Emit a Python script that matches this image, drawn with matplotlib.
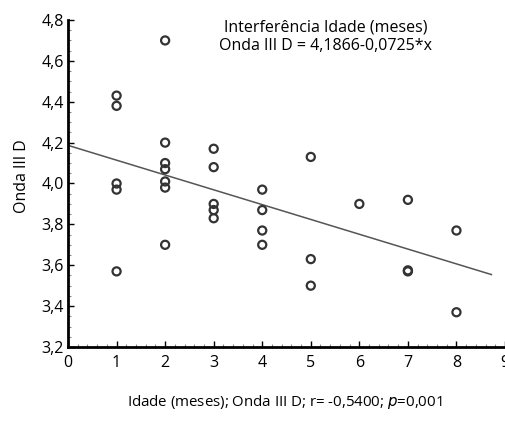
import matplotlib
matplotlib.use("Agg")
import matplotlib.pyplot as plt
from matplotlib.ticker import MultipleLocator, FuncFormatter

# --- Данные ---
idade = [1, 1, 1, 1, 1,
         2, 2, 2, 2, 2, 2, 2,
         3, 3, 3, 3, 3,
         4, 4, 4, 4,
         5, 5, 5,
         6,
         7, 7, 7,
         8, 8]
onda = [4.43, 4.38, 4.00, 3.97, 3.57,
        4.70, 4.20, 4.10, 4.07, 4.01, 3.98, 3.70,
        4.17, 4.08, 3.90, 3.87, 3.83,
        3.97, 3.87, 3.77, 3.70,
        4.13, 3.63, 3.50,
        3.90,
        3.92, 3.57, 3.575,
        3.77, 3.37]

intercepto = 4.1866
inclinacao = -0.0725
x_fim_reta = 8.72

plt.rcParams['font.family'] = ['Open Sans', 'DejaVu Sans']

figure = plt.figure(figsize=(5.05, 4.23), dpi=100)
axes = figure.add_axes([0.1347, 0.1797, 0.8653, 0.773])

axes.scatter(idade, onda, s=34, facecolors='none', edgecolors='#333333',
             linewidths=1.6, zorder=3, clip_on=False)

xs = [0, x_fim_reta]
axes.plot(xs, [intercepto + inclinacao * x for x in xs], color='#555555', linewidth=1.1)

axes.set_xlim(0, 9)
axes.set_ylim(3.2, 4.8)
axes.xaxis.set_major_locator(MultipleLocator(1))
axes.xaxis.set_minor_locator(MultipleLocator(0.2))
axes.yaxis.set_major_locator(MultipleLocator(0.2))
axes.yaxis.set_minor_locator(MultipleLocator(0.05))
axes.yaxis.set_major_formatter(FuncFormatter(lambda v, _: f"{v:.1f}".replace('.', ',')))

for lado in ['top', 'right']:
    axes.spines[lado].set_visible(False)
for lado in ['left', 'bottom']:
    axes.spines[lado].set_linewidth(2)
axes.tick_params(which='major', direction='in', length=4, width=1, labelsize=11.5, pad=3)
axes.tick_params(axis='x', which='major', pad=6)
axes.tick_params(which='minor', direction='in', length=2, width=0.8, color='#888888')
axes.get_xticklabels()[0].set_horizontalalignment('left')

axes.set_ylabel('Onda III D', fontsize=11.5, labelpad=8, y=0.523)

axes.text(0.59, 0.978, 'Interferência Idade (meses)', transform=axes.transAxes,
          ha='center', va='center', fontsize=11.5)
axes.text(0.59, 0.922, 'Onda III D = 4,1866-0,0725*x', transform=axes.transAxes,
          ha='center', va='center', fontsize=11.5)

figure.text(0.564, 0.05, 'Idade (meses); Onda III D; r= -0,5400; $\\it{p}$=0,001',
            ha='center', va='center', fontsize=10.8)

figure.savefig('out.png', dpi=100)
